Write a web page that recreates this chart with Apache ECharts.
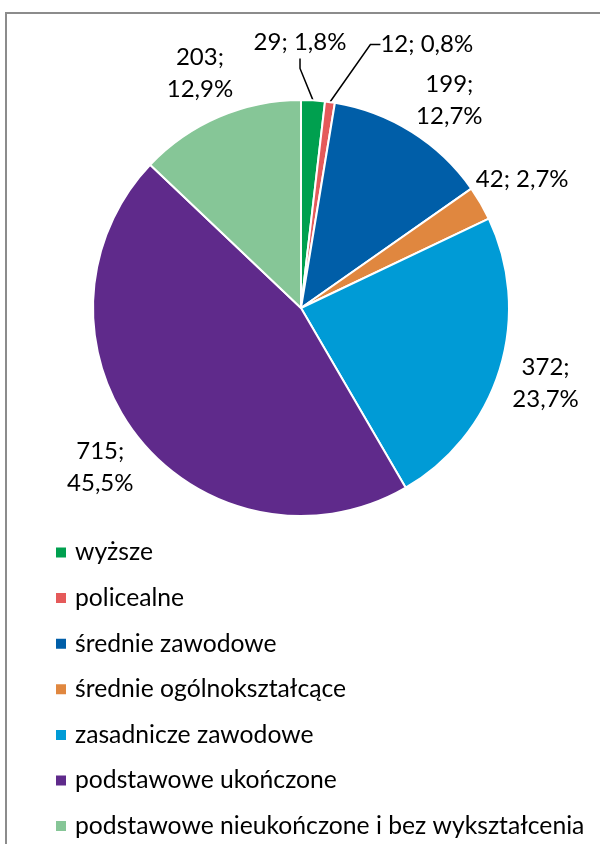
<!DOCTYPE html>
<html>
<head>
<meta charset="utf-8">
<script src="https://cdn.jsdelivr.net/npm/echarts@6/dist/echarts.min.js"></script>
<style>
  html, body { margin: 0; padding: 0; background: #fff; }
  #chart { width: 600px; height: 844px; }
</style>
</head>
<body>
<div id="chart"></div>
<script>
// education level (categories) and counts
const categories = [
  'wyższe',
  'policealne',
  'średnie zawodowe',
  'średnie ogólnokształcące',
  'zasadnicze zawodowe',
  'podstawowe ukończone',
  'podstawowe nieukończone i bez wykształcenia'
];
const values = [29, 12, 199, 42, 372, 715, 203];
const colors = ['#00a04f', '#e55a5a', '#005ea8', '#e0873f', '#009bd6', '#5f2a8b', '#86c697'];

const CX = 301;
const CY = 308;
const R = 208;
const FONT = 'Lato, "Noto Sans", sans-serif';

const total = values.reduce((a, b) => a + b, 0);
const isSmall = (v) => v / total < 0.02;

// mid angle of each slice (clockwise from 12 o'clock)
const midAngles = [];
let acc = 0;
values.forEach((v) => {
  midAngles.push(((acc + v / 2) / total) * Math.PI * 2);
  acc += v;
});

const fmtLabel = (p) => {
  const pct = (p.value / total * 100).toFixed(1).replace('.', ',') + '%';
  const s = p.value + '; ' + pct;
  return s.length > 8 ? p.value + ';\n' + pct : s;
};

// label boxes already placed, used to push the next one aside
let placed = [];
const hits = (b) => placed.find((p) => b.left < p.right && b.right > p.left && b.top < p.bottom && b.bottom > p.top);

const chart = echarts.init(document.getElementById('chart'));

chart.setOption({
  animation: false,
  color: colors,
  graphic: [{
    type: 'rect',
    shape: { x: 6, y: 13, width: 620, height: 860 },
    style: { fill: 'none', stroke: '#8c8c8c', lineWidth: 2 },
    silent: true
  }],
  legend: {
    orient: 'vertical',
    left: 49,
    top: 534,
    height: 320,
    icon: 'rect',
    itemWidth: 12,
    itemHeight: 12,
    itemGap: 18.6,
    textStyle: {
      fontFamily: FONT,
      fontSize: 24.7,
      lineHeight: 27,
      color: '#000',
      padding: [0, 0, 0, 3]
    },
    data: categories
  },
  series: [{
    type: 'pie',
    center: [CX, CY],
    radius: R,
    startAngle: 90,
    clockwise: true,
    avoidLabelOverlap: false,
    itemStyle: { borderColor: '#fff', borderWidth: 2 },
    label: {
      show: true,
      position: 'outside',
      formatter: fmtLabel,
      fontFamily: FONT,
      fontSize: 24,
      lineHeight: 32,
      color: '#000'
    },
    labelLine: {
      length: 20,
      length2: 10,
      lineStyle: { color: '#000', width: 1.5 }
    },
    labelLayout: (params) => {
      const i = params.dataIndex;
      if (i === 0) placed = [];
      const a = midAngles[i];
      const small = isSmall(values[i]);
      const dist = R + (small ? 58 : 48);
      const w = params.labelRect.width;
      const h = params.labelRect.height;
      const ax = CX + Math.sin(a) * dist;
      let y = CY - Math.cos(a) * dist;
      // small slices: label sits left of its leader line, pushed right if taken
      let left = small ? ax + 30 - w : ax - w / 2;
      let box = { left, right: left + w, top: y - h / 2, bottom: y + h / 2 };
      let p = hits(box);
      while (p) {
        if (small) {
          left = p.right + 34;
        } else {
          y = p.bottom + 8 + h / 2;
          left += 12;
        }
        box = { left, right: left + w, top: y - h / 2, bottom: y + h / 2 };
        p = hits(box);
      }
      placed.push(box);
      return { x: left + w / 2, y, align: 'center', verticalAlign: 'middle' };
    },
    data: categories.map((name, i) => ({
      name,
      value: values[i],
      labelLine: { show: isSmall(values[i]) }
    }))
  }]
});
</script>
</body>
</html>
